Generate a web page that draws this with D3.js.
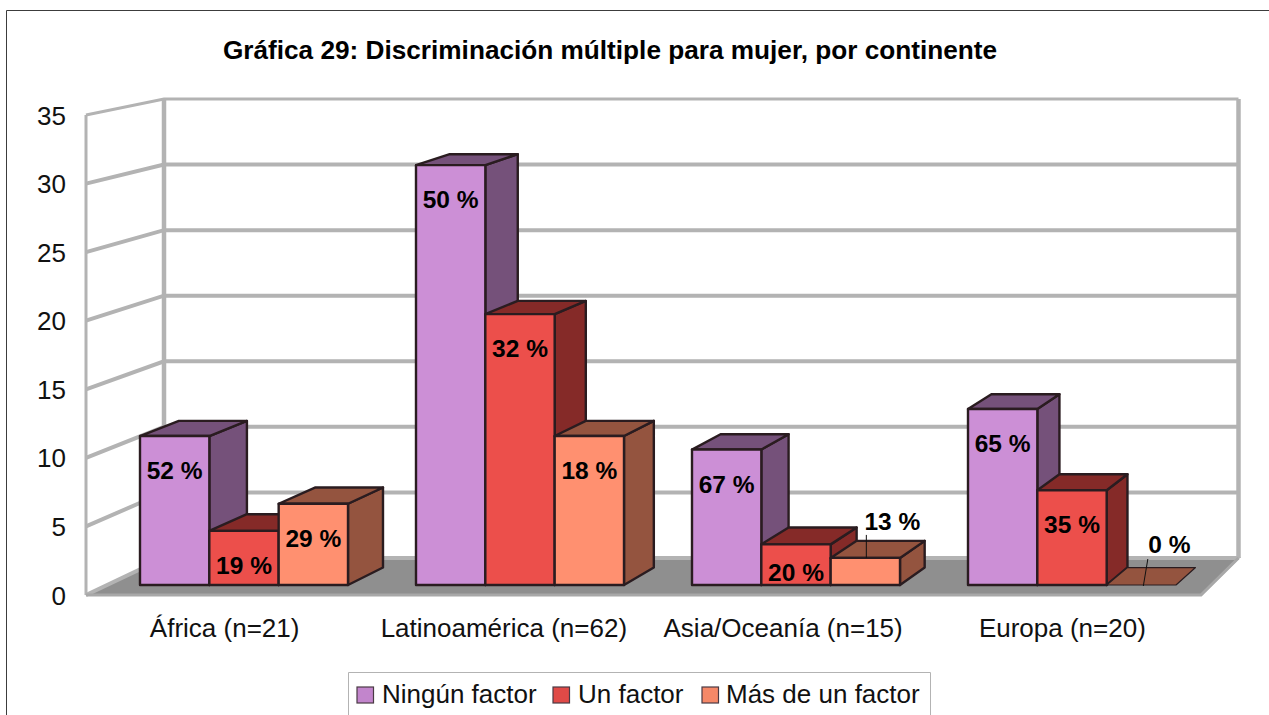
<!DOCTYPE html>
<html><head><meta charset="utf-8">
<script src="https://cdnjs.cloudflare.com/ajax/libs/d3/7.8.5/d3.min.js"></script>
<style>html,body{margin:0;padding:0;background:#fff;overflow:hidden}svg{display:block}text{font-family:"Liberation Sans",Arial,sans-serif}</style>
</head><body><svg id="c" width="1269" height="715"></svg>
<script>
const title = "Gráfica 29: Discriminación múltiple para mujer, por continente";
const categories = ["África (n=21)","Latinoamérica (n=62)","Asia/Oceanía (n=15)","Europa (n=20)"];
const seriesNames = ["Ningún factor","Un factor","Más de un factor"];
const ningun = [11,31,10,13];
const unFactor = [4,20,3,7];
const masDeUno = [6,11,2,0];
const pctNingun = ["52 %","50 %","67 %","65 %"];
const pctUn = ["19 %","32 %","20 %","35 %"];
const pctMas = ["29 %","18 %","13 %","0 %"];
const yTicks = [0,5,10,15,20,25,30,35];
const frontColors = ["#cc8fd6","#ec4f4b","#ff9070"];
const sideColors = ["#75517a","#852a28","#94543f"];
const legendColors = ["#c285cc","#e04a47","#f58868"];
const seriesValues = [ningun,unFactor,masDeUno];
const seriesPct = [pctNingun,pctUn,pctMas];

const svg = d3.select("#c");
const grid = "#b3b3b3";
const yFront = d3.scaleLinear().domain([0,35]).range([595,115]);
const yBack = d3.scaleLinear().domain([0,35]).range([558,99]);
const yBar = d3.scaleLinear().domain([0,35]).range([585,111]);
const xLabel = d3.scaleBand().domain(categories).range([85,1202]);
const xCat = d3.scaleBand().domain(categories).range([106,1210]);
const xSer = d3.scaleBand().domain(seriesNames).range([34,242]);
const backL=164, backR=1238.5, frontL=86, frontR=1201;
const depth = (x,y)=>[x+41.5-0.0187*x, y-(8.4+0.0155*y)];
const line = d3.line();

// frame
svg.append("path").attr("d","M6.5,715V10.5H1269").attr("fill","none").attr("stroke","#3c3c3c").attr("stroke-width",1);

// title
svg.append("text").attr("x",610).attr("y",59).attr("text-anchor","middle").attr("font-size",26.2).attr("font-weight","bold").attr("fill","#000").text(title);

// floor
svg.append("path").attr("d",line([[frontL,yFront(0)],[frontR,yFront(0)],[backR,yBack(0)],[backL,yBack(0)]])+"Z").attr("fill","#8f8f8f").attr("stroke","#a8a8a8").attr("stroke-width",2);

// walls
const wall = svg.append("g").attr("fill","none").attr("stroke",grid);
yTicks.forEach(t=>{
  wall.append("path").attr("d",line([[frontL,yFront(t)],[backL,yBack(t)],[backR,yBack(t)]])).attr("stroke-width",t===35?3:4);
});
wall.append("path").attr("d",line([[frontL,yFront(0)],[frontL,yFront(35)]])).attr("stroke-width",3);
wall.append("path").attr("d",line([[backL,yBack(0)],[backL,yBack(35)]])).attr("stroke-width",4.5);
wall.append("path").attr("d",line([[backR,yBack(0)],[backR,yBack(35)]])).attr("stroke-width",4.5);
svg.append("path").attr("d",line([[frontL,yFront(0)],[frontR,yFront(0)],[backR,yBack(0)]])).attr("fill","none").attr("stroke","#a8a8a8").attr("stroke-width",3);

// y labels
svg.append("g").selectAll("text").data(yTicks).join("text").attr("x",66).attr("y",d=>yFront(d)+9.5).attr("text-anchor","end").attr("font-size",26).attr("fill","#111").text(d=>d);

// bars
const stroke="#2a1c20";
categories.forEach((c,ci)=>{
  seriesNames.forEach((s,si)=>{
    const v=seriesValues[si][ci];
    const x0=xCat(c)+xSer(s), x1=x0+xSer.bandwidth(), y0=yBar(0), y1=yBar(v);
    const g=svg.append("g").attr("stroke",stroke).attr("stroke-width",2.4).attr("stroke-linejoin","round");
    const a=[x0,y1],b=[x1,y1],e=[x1,y0];
    if(v>0){
      g.append("path").attr("d",line([b,depth(...b),depth(...e),e])+"Z").attr("fill",sideColors[si]);
      g.append("path").attr("d",line([a,depth(...a),depth(...b),b])+"Z").attr("fill",sideColors[si]);
      g.append("path").attr("d",line([a,b,e,[x0,y0]])+"Z").attr("fill",frontColors[si]);
    } else {
      g.append("path").attr("d",line([[x0,y0],depth(x0,y0),depth(x1,y0),[x1,y0]])+"Z").attr("fill",sideColors[si]).attr("stroke-width",1.2);
    }
  });
});

// value labels
const lab = svg.append("g").attr("font-size",24.5).attr("font-weight","bold").attr("fill","#000").attr("text-anchor","middle");
categories.forEach((c,ci)=>{
  seriesNames.forEach((s,si)=>{
    const v=seriesValues[si][ci], x=xCat(c)+xSer(s)+xSer.bandwidth()/2, y=yBar(v);
    const t=seriesPct[si][ci];
    if(v<=2){
      lab.append("text").attr("x",x+(v===0?28:27)).attr("y",v===0?553:530).text(t);
      const p = v===0 ? [[x+2,y+1],[x+6.5,y-26]] : [[x+1,y],[x+1,y-23]];
      svg.append("path").attr("d",line(p)).attr("stroke","#111").attr("stroke-width",1).attr("fill","none");
    } else {
      lab.append("text").attr("x",x).attr("y",y+(v<4?37:43)).text(t);
    }
  });
});

// category labels
svg.append("g").selectAll("text").data(categories).join("text")
  .attr("x",d=>xLabel(d)+xLabel.bandwidth()/2).attr("y",637).attr("text-anchor","middle").attr("font-size",26).attr("fill","#111").text(d=>d);

// legend
svg.append("path").attr("d","M348.5,715V672.5H930.5V715").attr("fill","none").attr("stroke","#b3b3b3");
const legX=[357,553,702], legTX=[382,578,726];
seriesNames.forEach((s,i)=>{
  svg.append("rect").attr("x",legX[i]).attr("y",687).attr("width",16.5).attr("height",16).attr("fill",legendColors[i]).attr("stroke","#4a3a44").attr("stroke-width",1.2);
  svg.append("text").attr("x",legTX[i]).attr("y",703).attr("font-size",26).attr("fill","#111").text(s);
});
</script></body></html>
